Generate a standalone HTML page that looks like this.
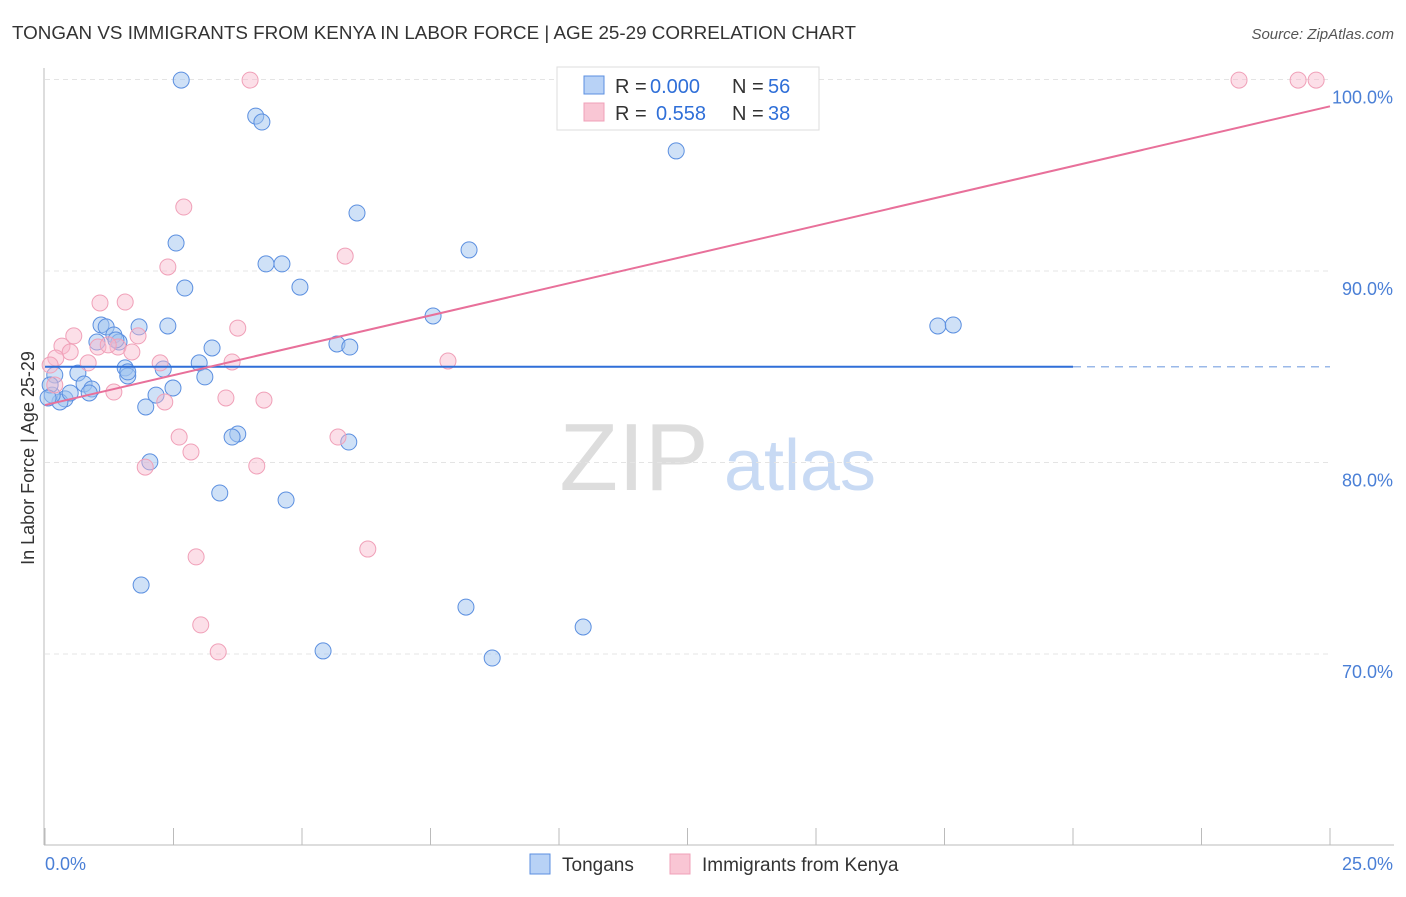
<!DOCTYPE html>
<html><head><meta charset="utf-8"><style>
body{margin:0;background:#fff;font-family:"Liberation Sans",sans-serif;}
svg text{font-family:"Liberation Sans",sans-serif;}
</style></head><body>
<svg id="chart" width="1406" height="892">
<text x="12" y="39" font-size="18" fill="#333" textLength="844" lengthAdjust="spacingAndGlyphs">TONGAN VS IMMIGRANTS FROM KENYA IN LABOR FORCE | AGE 25-29 CORRELATION CHART</text>
<text x="1394" y="39" font-size="15" fill="#555" font-style="italic" text-anchor="end">Source: ZipAtlas.com</text>
<g>
<text x="634" y="490" font-size="96" fill="#ddd" font-family="Liberation Serif" text-anchor="middle">ZIP</text>
<text x="800" y="490" font-size="72" fill="#c8daf4" text-anchor="middle">atlas</text>
</g>
<g id="grid"></g>
<g id="axes"></g>
<g id="marks"></g>
<text transform="translate(34,458) rotate(-90)" font-size="18" fill="#333" text-anchor="middle">In Labor Force | Age 25-29</text>
<g>
<rect x="557" y="67" width="262" height="63" fill="#fff" stroke="#ddd"/>
<rect x="584" y="76" width="20" height="18" fill="#b8d2f6" stroke="#5b8fe0"/>
<text x="615" y="93" font-size="20" fill="#333">R =</text>
<text x="650" y="93" font-size="20" fill="#2f6fd8">0.000</text>
<text x="732" y="93" font-size="20" fill="#333">N =</text>
<text x="768" y="93" font-size="20" fill="#2f6fd8">56</text>
<rect x="584" y="103" width="20" height="18" fill="#f9c6d4" stroke="#f0a0b8"/>
<text x="615" y="120" font-size="20" fill="#333">R =</text>
<text x="656" y="120" font-size="20" fill="#2f6fd8">0.558</text>
<text x="732" y="120" font-size="20" fill="#333">N =</text>
<text x="768" y="120" font-size="20" fill="#2f6fd8">38</text>
</g>
<g>
<rect x="530" y="854" width="20" height="20" fill="#b8d2f6" stroke="#5b8fe0"/>
<text x="562" y="871" font-size="19" fill="#333">Tongans</text>
<rect x="670" y="854" width="20" height="20" fill="#f9c6d4" stroke="#f0a0b8"/>
<text x="702" y="871" font-size="19" fill="#333">Immigrants from Kenya</text>
</g>
</svg>
<script>
const yTicks=[100,90,80,70];
const yTickLabels=["100.0%","90.0%","80.0%","70.0%"];
const xTickValues=[0,2.5,5,7.5,10,12.5,15,17.5,20,22.5,25];
const xEndLabels=["0.0%","25.0%"];
const blueX=[2.65,4.10,4.22,12.28,6.07,2.55,8.25,4.30,4.61,2.72,4.96,7.55,1.09,1.19,1.83,2.39,1.34,1.44,1.01,17.37,17.67,5.68,5.93,3.25,3.00,1.56,2.30,0.64,1.61,3.11,0.19,0.76,0.91,0.86,2.49,2.16,0.39,0.29,1.96,0.14,3.75,3.64,5.91,2.04,3.40,4.69,1.87,8.19,10.47,5.41,8.70,0.10,0.49,1.38,1.61,0.06];
const blueY=[99.97,98.09,97.78,96.27,93.03,91.46,91.10,90.37,90.37,89.11,89.16,87.65,87.18,87.08,87.08,87.13,86.66,86.29,86.29,87.13,87.18,86.19,86.03,85.98,85.20,84.94,84.88,84.67,84.52,84.47,84.57,84.10,83.84,83.63,83.89,83.52,83.32,83.16,82.90,83.52,81.49,81.33,81.07,80.03,78.41,78.04,73.6,72.45,71.41,70.16,69.79,84.05,83.63,86.40,84.73,83.37];
const pinkX=[3.99,23.23,24.38,24.73,2.70,2.39,5.84,1.07,1.56,3.75,0.56,0.33,1.81,1.03,1.42,1.23,1.69,0.49,0.21,0.84,2.24,3.64,7.84,0.10,1.34,2.33,3.52,4.26,2.61,5.70,2.84,1.95,4.12,6.28,2.94,3.03,3.37,0.19];
const pinkY=[99.97,99.97,99.97,99.97,93.34,90.21,90.78,88.33,88.38,87.02,86.61,86.08,86.61,86.03,86.03,86.14,85.77,85.77,85.46,85.20,85.20,85.25,85.30,85.09,83.68,83.16,83.37,83.26,81.33,81.33,80.55,79.76,79.82,75.48,75.07,71.52,70.11,84.05];
const blueTrend=[85.0,85.0];
const pinkTrend=[83.0,98.6];
const NS="http://www.w3.org/2000/svg";
const X=v=>45+v/25*1285;
const Y=v=>79.5+(100-v)*19.15;
function mk(parent,tag,attrs){const e=document.createElementNS(NS,tag);for(const k in attrs)e.setAttribute(k,attrs[k]);document.getElementById(parent).appendChild(e);return e;}
yTicks.forEach((t,i)=>{
 const g=mk('grid','line',{x1:45,x2:1330,y1:Y(t),y2:Y(t),stroke:'#e4e4e4','stroke-dasharray':'5,4'});
 
 
 const l=mk('axes','text',{x:1393,y:Y(t)+24,'font-size':18,fill:'#4a7fd6','text-anchor':'end'});
 l.textContent=yTickLabels[i];
 
 
});
const ax=mk('axes','line',{x1:44,x2:44,y1:68,y2:845,stroke:'#bbb'});


const bx=mk('axes','line',{x1:44,x2:1394,y1:845,y2:845,stroke:'#bbb'});


xTickValues.forEach(v=>{
 const t=mk('axes','line',{x1:X(v),x2:X(v),y1:828,y2:845,stroke:'#bbb'});
 
 
});
const xl0=mk('axes','text',{x:45,y:870,'font-size':18,fill:'#4a7fd6'});
xl0.textContent=xEndLabels[0];


const xl1=mk('axes','text',{x:1393,y:870,'font-size':18,fill:'#4a7fd6','text-anchor':'end'});
xl1.textContent=xEndLabels[1];


blueX.forEach((v,i)=>{
 const c=mk('marks','circle',{cx:X(v),cy:Y(blueY[i]),r:8,fill:'rgba(160,195,240,0.5)',stroke:'#5b8fe0','stroke-width':1});
 
 
});
pinkX.forEach((v,i)=>{
 const c=mk('marks','circle',{cx:X(v),cy:Y(pinkY[i]),r:8,fill:'rgba(248,185,205,0.45)',stroke:'#f0a0b8','stroke-width':1});
 
 
});
const bl=mk('marks','line',{x1:X(0),x2:X(20),y1:Y(blueTrend[0]),y2:Y(blueTrend[0]),stroke:'#2f6fd8','stroke-width':2});


const bd=mk('marks','line',{x1:X(20),x2:X(25),y1:Y(blueTrend[1]),y2:Y(blueTrend[1]),stroke:'#9ab8e8','stroke-width':1.5,'stroke-dasharray':'8,6'});


const pl=mk('marks','line',{x1:X(0),x2:X(25),y1:Y(pinkTrend[0]),y2:Y(pinkTrend[1]),stroke:'#e8709a','stroke-width':2});


</script>
</body></html>
